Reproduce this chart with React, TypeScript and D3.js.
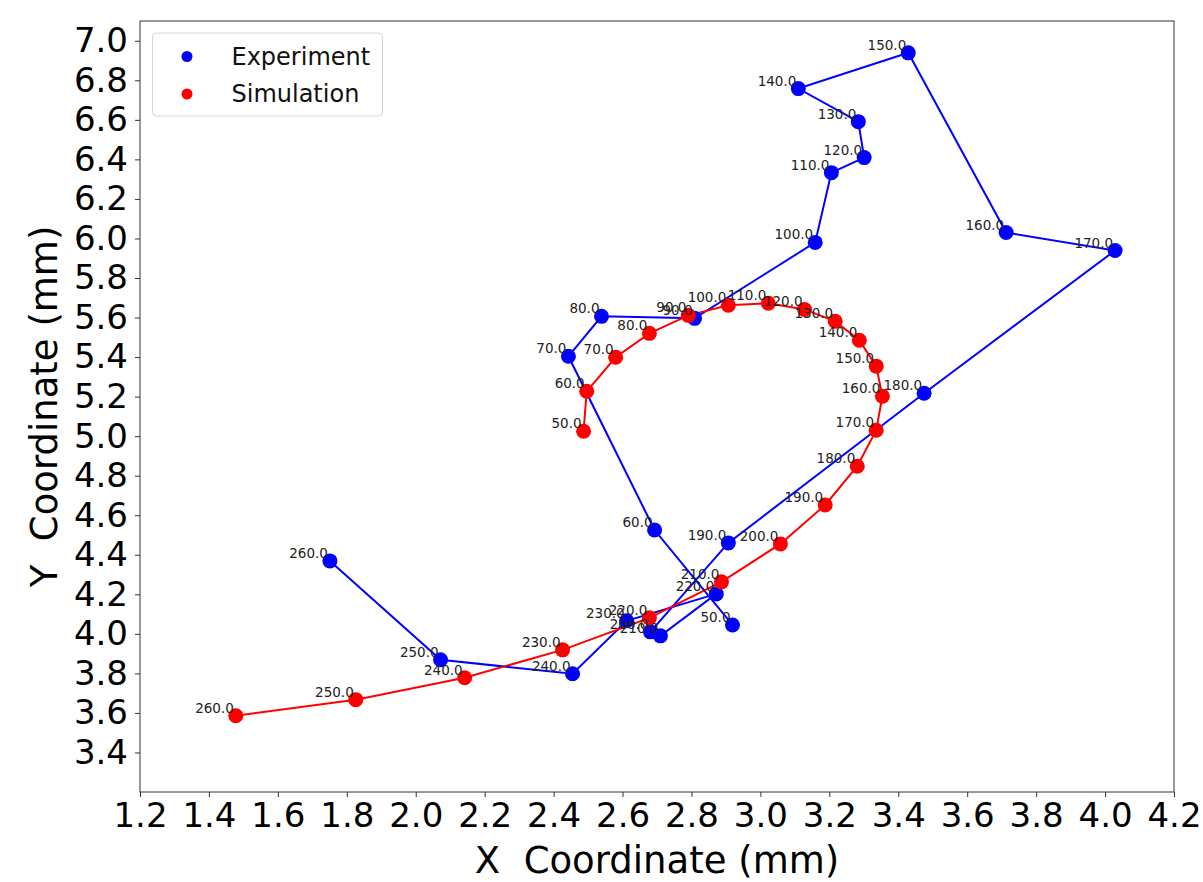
import { useEffect, useRef } from 'react'
import * as d3 from 'd3'

// time stamps shared by both tracks
const times = [50, 60, 70, 80, 90, 100, 110, 120, 130, 140, 150, 160, 170, 180, 190, 200, 210, 220, 230, 240, 250, 260]

const expX = [2.919, 2.693, 2.443, 2.539, 2.809, 3.159, 3.206, 3.301, 3.284, 3.110, 3.429, 3.713, 4.029, 3.475, 2.907, 2.681, 2.710, 2.872, 2.612, 2.455, 2.072, 1.751]
const expY = [4.045, 4.525, 5.404, 5.606, 5.596, 5.980, 6.333, 6.409, 6.591, 6.758, 6.939, 6.030, 5.939, 5.217, 4.460, 4.010, 3.990, 4.202, 4.066, 3.798, 3.869, 4.369]

const simX = [2.487, 2.496, 2.580, 2.678, 2.791, 2.907, 3.023, 3.128, 3.217, 3.287, 3.336, 3.354, 3.336, 3.281, 3.188, 3.058, 2.887, 2.678, 2.426, 2.142, 1.826, 1.478]
const simY = [5.025, 5.227, 5.399, 5.520, 5.611, 5.662, 5.672, 5.641, 5.581, 5.485, 5.354, 5.202, 5.030, 4.848, 4.652, 4.455, 4.263, 4.081, 3.919, 3.778, 3.667, 3.586]

const xTicks = [1.2, 1.4, 1.6, 1.8, 2.0, 2.2, 2.4, 2.6, 2.8, 3.0, 3.2, 3.4, 3.6, 3.8, 4.0, 4.2]
const yTicks = [3.4, 3.6, 3.8, 4.0, 4.2, 4.4, 4.6, 4.8, 5.0, 5.2, 5.4, 5.6, 5.8, 6.0, 6.2, 6.4, 6.6, 6.8, 7.0]

const FONT = 'DejaVu Sans, sans-serif'

type Pt = { t: number; x: number; y: number }

export default function App() {
  const svgRef = useRef<SVGSVGElement>(null)

  useEffect(() => {
    if (!svgRef.current) return
    const svg = d3.select(svgRef.current)
    svg.selectAll('*').remove()

    const W = 1203
    const H = 882
    const margin = { top: 21, right: 29, bottom: 90, left: 140 }

    svg.attr('width', W).attr('height', H)

    const x = d3.scaleLinear().domain([1.2, 4.2]).range([margin.left, W - margin.right])
    const y = d3.scaleLinear().domain([3.2, 7.1]).range([H - margin.bottom, margin.top])

    const exp: Pt[] = times.map((t, i) => ({ t, x: expX[i], y: expY[i] }))
    const sim: Pt[] = times.map((t, i) => ({ t, x: simX[i], y: simY[i] }))

    const line = d3.line<Pt>().x((d) => x(d.x)).y((d) => y(d.y))

    const series = [
      { data: exp, color: '#0000ff' },
      { data: sim, color: '#ff0000' },
    ]

    series.forEach((s) => {
      svg.append('path')
        .datum(s.data)
        .attr('fill', 'none').attr('stroke', s.color).attr('stroke-width', 2)
        .attr('d', line)
    })

    series.forEach((s) => {
      svg.append('g').selectAll('circle')
        .data(s.data)
        .enter().append('circle')
        .attr('cx', (d) => x(d.x))
        .attr('cy', (d) => y(d.y))
        .attr('r', 7.5).attr('fill', s.color)
    })

    series.forEach((s) => {
      svg.append('g').selectAll('text')
        .data(s.data)
        .enter().append('text')
        .attr('x', (d) => x(d.x) - 2)
        .attr('y', (d) => y(d.y) - 3)
        .attr('text-anchor', 'end')
        .attr('font-family', FONT).attr('font-size', '13.5px')
        .attr('fill', '#222')
        .text((d) => d.t.toFixed(1))
    })

    // frame
    svg.append('rect')
      .attr('x', margin.left).attr('y', margin.top)
      .attr('width', W - margin.left - margin.right)
      .attr('height', H - margin.top - margin.bottom)
      .attr('fill', 'none').attr('stroke', '#333').attr('stroke-width', 1)

    const xAxis = svg.append('g')
      .attr('transform', `translate(0,${H - margin.bottom})`)
      .call(d3.axisBottom(x).tickValues(xTicks).tickFormat(d3.format('.1f')).tickSize(5).tickPadding(6))
    xAxis.select('.domain').remove()
    xAxis.selectAll('line').attr('stroke', '#333')
    xAxis.selectAll('text').attr('font-family', FONT).attr('font-size', '34px').attr('fill', '#000')

    const yAxis = svg.append('g')
      .attr('transform', `translate(${margin.left},0)`)
      .call(d3.axisLeft(y).tickValues(yTicks).tickFormat(d3.format('.1f')).tickSize(5).tickPadding(7))
    yAxis.select('.domain').remove()
    yAxis.selectAll('line').attr('stroke', '#333')
    yAxis.selectAll('text').attr('font-family', FONT).attr('font-size', '34px').attr('fill', '#000')

    svg.append('text')
      .attr('x', (margin.left + W - margin.right) / 2).attr('y', 873)
      .attr('text-anchor', 'middle').attr('font-family', FONT).attr('font-size', '37px')
      .style('white-space', 'pre')
      .text('X  Coordinate (mm)')

    svg.append('text')
      .attr('transform', `translate(57,${(margin.top + H - margin.bottom) / 2}) rotate(-90)`)
      .attr('text-anchor', 'middle').attr('font-family', FONT).attr('font-size', '37px')
      .style('white-space', 'pre')
      .text('Y  Coordinate (mm)')

    // legend
    const legend = svg.append('g').attr('transform', 'translate(152.5,33)')
    legend.append('rect')
      .attr('width', 230).attr('height', 83).attr('rx', 4)
      .attr('fill', 'white').attr('fill-opacity', 0.8)
      .attr('stroke', '#d5d5d5').attr('stroke-width', 1)
    const entries = [
      { label: 'Experiment', color: '#0000ff' },
      { label: 'Simulation', color: '#ff0000' },
    ]
    entries.forEach((e, i) => {
      legend.append('circle')
        .attr('cx', 34.5).attr('cy', 23.5 + i * 37.5).attr('r', 5.5).attr('fill', e.color)
      legend.append('text')
        .attr('x', 79).attr('y', 23.5 + i * 37.5 + 8)
        .attr('font-family', FONT).attr('font-size', '24px').attr('fill', '#111')
        .text(e.label)
    })
  }, [])

  return (
    <svg ref={svgRef} style={{ position: 'absolute', left: 0, top: 0, background: 'white' }}></svg>
  )
}
